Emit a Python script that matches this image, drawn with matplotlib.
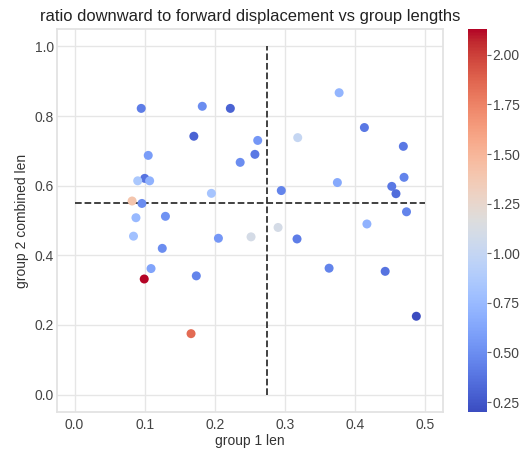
import matplotlib
matplotlib.use('Agg')
import matplotlib.pyplot as plt
import seaborn as sns

# group lengths and the downward/forward displacement ratio per sample
group1_len = [0.095, 0.182, 0.222, 0.170, 0.261, 0.257, 0.236, 0.105, 0.100, 0.090,
              0.107, 0.195, 0.082, 0.096, 0.0875, 0.1295, 0.377, 0.413, 0.318, 0.4685,
              0.4695, 0.3745, 0.452, 0.458, 0.2946, 0.473, 0.084, 0.205, 0.2515, 0.125,
              0.109, 0.0993, 0.1735, 0.166, 0.290, 0.317, 0.4166, 0.3627, 0.4426, 0.487]
group2_len = [0.822, 0.828, 0.822, 0.742, 0.730, 0.690, 0.667, 0.687, 0.621, 0.614,
              0.614, 0.578, 0.556, 0.549, 0.508, 0.512, 0.867, 0.767, 0.738, 0.713,
              0.624, 0.609, 0.598, 0.577, 0.586, 0.525, 0.455, 0.449, 0.453, 0.420,
              0.362, 0.332, 0.341, 0.175, 0.480, 0.447, 0.490, 0.363, 0.354, 0.225]
ratio = [0.42, 0.50, 0.30, 0.30, 0.55, 0.40, 0.50, 0.58, 0.38, 0.85,
         0.70, 0.82, 1.40, 0.50, 0.75, 0.52, 0.72, 0.40, 1.00, 0.40,
         0.45, 0.65, 0.40, 0.35, 0.45, 0.45, 0.80, 0.55, 1.10, 0.50,
         0.62, 2.13, 0.45, 1.85, 1.10, 0.42, 0.70, 0.45, 0.38, 0.20]

group1_split = 0.274
group2_split = 0.551

sns.set_theme(style='whitegrid', rc={'grid.color': '#e6e6e6', 'axes.edgecolor': '#e2e2e2'})
plt.rcParams['font.family'] = ['Liberation Sans', 'DejaVu Sans']

fig = plt.figure(figsize=(5.23, 4.50), dpi=100)
ax = fig.add_axes([57 / 523, 38 / 450, 386 / 523, 383 / 450])
cax = fig.add_axes([468 / 523, 38 / 450, 19 / 523, 383 / 450])

sc = ax.scatter(group1_len, group2_len, c=ratio, cmap='coolwarm',
                vmin=0.20, vmax=2.13, s=42, linewidths=0, zorder=3)
ax.vlines(group1_split, 0, 1, colors='#333333', linestyles='--', linewidth=1.3, zorder=2)
ax.hlines(group2_split, 0, 0.5, colors='#333333', linestyles='--', linewidth=1.3, zorder=2)

ax.set_xticks([0.0, 0.1, 0.2, 0.3, 0.4, 0.5])
ax.set_yticks([0.0, 0.2, 0.4, 0.6, 0.8, 1.0])
ax.tick_params(axis='x', labelsize=10, pad=4, length=0, labelcolor='#444444')
ax.tick_params(axis='y', labelsize=10, pad=2, length=0, labelcolor='#444444')
ax.set_xlabel('group 1 len', fontsize=10, labelpad=2, color='#333333')
ax.set_ylabel('group 2 combined len', fontsize=10, labelpad=4, color='#333333')
ax.set_title('ratio downward to forward displacement vs group lengths',
             fontsize=11.9, pad=6, color='#222222')

cb = fig.colorbar(sc, cax=cax)
cb.outline.set_visible(False)
cb.set_ticks([0.25, 0.50, 0.75, 1.00, 1.25, 1.50, 1.75, 2.00])
cb.ax.tick_params(labelsize=10, length=3, width=0.8, color='#666666', right=True,
                  labelcolor='#444444', pad=1)

fig.savefig('out.png', dpi=100)
